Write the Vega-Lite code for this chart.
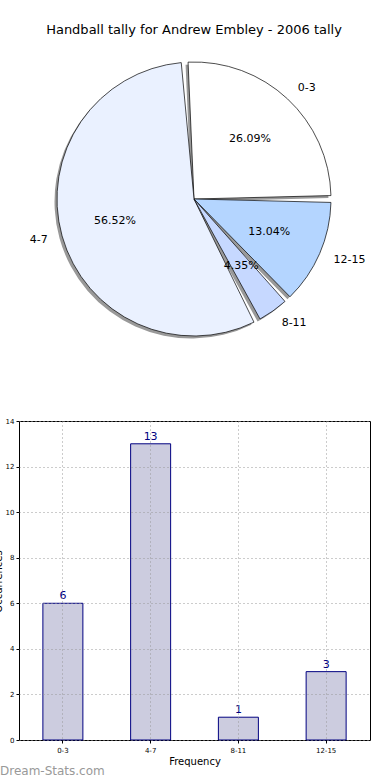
{
  "$schema": "https://vega.github.io/schema/vega-lite/v6.json",
  "autosize": {"type": "none"},
  "padding": {"left": 19, "top": 49, "right": 371, "bottom": 731},
  "background": "white",
  "config": {"font": "DejaVu Sans", "view": {"stroke": null}},
  "datasets": {
    "tally": [
      {"range": "0-3", "count": 6, "idx": 0, "pct": "26.09%"},
      {"range": "4-7", "count": 13, "idx": 1, "pct": "56.52%"},
      {"range": "8-11", "count": 1, "idx": 2, "pct": "4.35%"},
      {"range": "12-15", "count": 3, "idx": 3, "pct": "13.04%"}
    ]
  },
  "spacing": 72,
  "bounds": "flush",
  "vconcat": [
    {
      "width": 350,
      "height": 300,
      "title": {"text": "Handball tally for Andrew Embley - 2006 tally", "fontSize": 13, "fontWeight": "normal", "color": "#000", "offset": 12, "anchor": "middle"},
      "data": {"name": "tally"},
      "encoding": {
        "theta": {"field": "count", "type": "quantitative", "stack": true, "scale": {"range": [1.5708, -4.7124]}},
        "order": {"field": "idx", "type": "quantitative"},
        "color": {"field": "range", "type": "nominal", "scale": {"domain": ["0-3", "4-7", "8-11", "12-15"], "range": ["#ffffff", "#eaf1ff", "#c6d8ff", "#b4d5ff"]}, "legend": null}
      },
      "layer": [
        {"mark": {"type": "arc", "radius": 137, "padAngle": 0.05, "xOffset": -2.5, "yOffset": 2.5}, "encoding": {"color": {"value": "#999999"}}},
        {"mark": {"type": "arc", "radius": 137, "padAngle": 0.05, "stroke": "#000", "strokeWidth": 0.7}},
        {"mark": {"type": "text", "radius": 82, "fontSize": 11}, "encoding": {"text": {"field": "pct"}, "color": {"value": "#000"}}},
        {"mark": {"type": "text", "radius": 152, "fontSize": 11, "align": {"expr": "datum.range == '4-7' ? 'right' : 'left'"}}, "encoding": {"text": {"field": "range"}, "color": {"value": "#000"}}}
      ]
    },
    {
      "width": 351,
      "height": 319,
      "data": {"name": "tally"},
      "view": {"stroke": "#000", "strokeWidth": 1},
      "title": {"text": "Dream-Stats.com", "orient": "bottom", "anchor": "start", "frame": "group", "dx": -19, "fontSize": 12, "fontWeight": "normal", "color": "#999999", "offset": 0},
      "encoding": {
        "x": {"field": "range", "type": "nominal", "sort": ["0-3", "4-7", "8-11", "12-15"], "scale": {"paddingInner": 0, "paddingOuter": 0},
          "axis": {"title": "Frequency", "labelAngle": 0, "labelFontSize": 7, "titleFontSize": 10, "titleFontWeight": "normal", "grid": true, "gridDash": [1, 3], "gridColor": "#999999", "domain": false, "ticks": true, "tickSize": 3, "tickColor": "#000", "bandPosition": 0.5, "labelColor": "#000", "titleColor": "#000", "labelPadding": 3, "titlePadding": 3, "zindex": 1}},
        "y": {"field": "count", "type": "quantitative", "scale": {"domain": [0, 14], "nice": false},
          "axis": {"title": "Occurrences", "values": [0, 2, 4, 6, 8, 10, 12, 14], "labelFontSize": 7, "labelColor": "#000", "grid": true, "gridDash": [1, 3], "gridColor": "#999999", "domain": false, "tickSize": 3, "tickColor": "#000", "labelPadding": 2, "titleFontSize": 10, "titleFontWeight": "normal", "titleColor": "#000", "titleX": -16, "titleY": 160, "titleBaseline": "bottom", "titleAngle": -90, "zindex": 1}}
      },
      "layer": [
        {"mark": {"type": "bar", "width": 40, "fill": "#ccccdf", "stroke": "#000080", "strokeWidth": 1}},
        {"mark": {"type": "text", "dy": -7, "fontSize": 11, "color": "#000080"}, "encoding": {"text": {"field": "count"}}}
      ]
    }
  ]
}
